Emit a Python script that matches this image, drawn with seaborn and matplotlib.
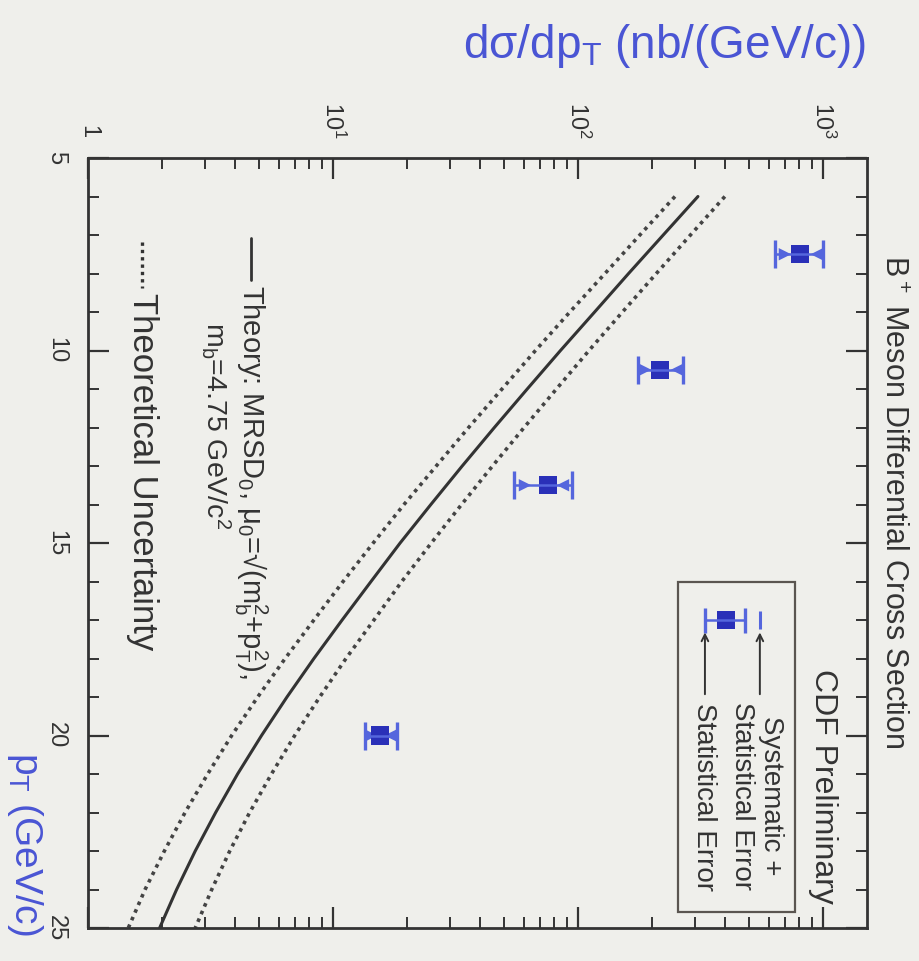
import matplotlib
matplotlib.use("Agg")
import matplotlib.pyplot as plt
import seaborn as sns
import numpy as np
import pandas as pd
from matplotlib import font_manager
from matplotlib.ticker import FixedLocator, LogLocator, NullFormatter
from matplotlib.lines import Line2D
from matplotlib.patches import Rectangle

# ---------------- data ----------------
pt_theory = [6, 7, 8, 9, 10, 11, 12, 13, 14, 15, 16, 17, 18, 19, 20, 21, 22, 23, 24, 25]
theory_central = [309, 223, 161, 117, 84.9, 62.1, 45.6, 33.7, 25.1, 18.8, 14.3, 10.9, 8.36, 6.49,
                  5.11, 4.08, 3.32, 2.74, 2.30, 1.96]
theory_upper = [398, 288, 209, 152, 111, 81.7, 60.3, 44.8, 33.5, 25.2, 19.1, 14.7, 11.3, 8.83,
                6.98, 5.61, 4.57, 3.79, 3.20, 2.74]
theory_lower = [249, 179, 129, 92.7, 67.1, 49.0, 35.8, 26.4, 19.5, 14.6, 11.0, 8.36, 6.38, 4.93,
                3.86, 3.08, 2.49, 2.05, 1.71, 1.46]

pt_data = [7.5, 10.5, 13.5, 20.0]
xsec_data = [805, 216, 75.5, 15.6]
stat_low = [700, 188, 60.8, 14.3]
stat_high = [945, 254, 86.9, 17.2]
syst_low = [637, 176, 55, 13.5]
syst_high = [1000, 268, 94.6, 18.2]

legend_pt = [17.0]
legend_val = [402]
legend_stat_low = [330]
legend_stat_high = [480]
legend_syst_high = [553]

pt_ticks = [5, 10, 15, 20, 25]
pt_ticklabels = ["5", "10", "15", "20", "25"]
xs_ticks = [1, 10, 100, 1000]
xs_ticklabels = ["1", "$10^1$", "$10^2$", "$10^3$"]

# ---------------- style ----------------
BG = "#efefeb"
INK = "#333333"
BLUE_TXT = "#4a55d4"
BLUE_BAR = "#5566dd"
BLUE_PT = "#2a30b8"

sns.set_theme(style="ticks")
avail = {f.name for f in font_manager.fontManager.ttflist}
base = "Liberation Sans" if "Liberation Sans" in avail else "DejaVu Sans"
plt.rcParams["font.family"] = [base, "DejaVu Sans"]
plt.rcParams["mathtext.fontset"] = "custom"
plt.rcParams["mathtext.rm"] = base
plt.rcParams["mathtext.it"] = base + ":italic"
plt.rcParams["mathtext.bf"] = base + ":bold"

W, H = 920, 961
fig = plt.figure(figsize=(W / 100, H / 100), dpi=100, facecolor=BG)

L, R, T, B = 88, 867, 158, 928
ax = fig.add_axes([L / W, 1 - B / H, (R - L) / W, (B - T) / H])
ax.set_facecolor(BG)

def fx(px):
    return px / W

def fy(py):
    return 1 - py / H

# theory curves
df_c = pd.DataFrame({"pt": pt_theory, "val": theory_central})
df_u = pd.DataFrame({"pt": pt_theory, "val": theory_upper})
df_l = pd.DataFrame({"pt": pt_theory, "val": theory_lower})
sns.lineplot(data=df_c, x="val", y="pt", orient="y", sort=False, estimator=None,
             color=INK, lw=2.2, ax=ax)
for d in (df_u, df_l):
    sns.lineplot(data=d, x="val", y="pt", orient="y", sort=False, estimator=None,
                 color="#444444", lw=2.6, linestyle=(0, (1.0, 1.3)), ax=ax)

# data points
xd = np.array(xsec_data)
ax.errorbar(xd, pt_data, xerr=[xd - np.array(syst_low), np.array(syst_high) - xd],
            fmt="none", ecolor=BLUE_BAR, elinewidth=1.8, capsize=10, capthick=2.4)
sns.scatterplot(x=stat_low, y=pt_data, marker=">", s=80, color=BLUE_BAR, edgecolor="none", ax=ax)
sns.scatterplot(x=stat_high, y=pt_data, marker="<", s=80, color=BLUE_BAR, edgecolor="none", ax=ax)
sns.scatterplot(x=xsec_data, y=pt_data, marker="s", s=170, color=BLUE_PT, edgecolor="none", ax=ax)

# legend sample
lv = np.array(legend_val)
ax.errorbar(lv, legend_pt, xerr=[lv - np.array(legend_stat_low), np.array(legend_stat_high) - lv],
            fmt="none", ecolor=BLUE_BAR, elinewidth=1.8, capsize=9, capthick=2.4)
sns.scatterplot(x=legend_val, y=legend_pt, marker="s", s=170, color=BLUE_PT, edgecolor="none", ax=ax)
sns.scatterplot(x=legend_syst_high, y=legend_pt, marker="|", s=160, linewidth=2.2, color=BLUE_BAR, ax=ax)

ax.add_patch(Rectangle((fx(678), fy(912)), fx(795) - fx(678), fy(582) - fy(912),
                       transform=fig.transFigure, fill=False, edgecolor="#5a5550", lw=1.6))
ax.annotate("", xy=(legend_syst_high[0], legend_pt[0] + 0.25), xytext=(legend_syst_high[0], 19.0),
            arrowprops=dict(arrowstyle="->", color=INK, lw=1.4))
ax.annotate("", xy=(legend_stat_low[0], legend_pt[0] + 0.25), xytext=(legend_stat_low[0], 19.0),
            arrowprops=dict(arrowstyle="->", color=INK, lw=1.4))
fig.text(fx(757), fy(702), "Systematic +\nStatistical Error", rotation=270,
         ha="center", va="top", fontsize=20, color=INK, linespacing=1.15)
fig.text(fx(704), fy(703), "Statistical Error", rotation=270,
         ha="center", va="top", fontsize=20, color=INK)

# axes limits / ticks
ax.set_xscale("log")
ax.set_xlim(1, 1514)
ax.set_ylim(25, 5)
ax.xaxis.set_major_locator(FixedLocator(xs_ticks))
ax.xaxis.set_minor_locator(LogLocator(base=10, subs=np.arange(2, 10)))
ax.xaxis.set_minor_formatter(NullFormatter())
ax.set_xticks(xs_ticks)
ax.set_xticklabels(xs_ticklabels)
ax.set_yticks(pt_ticks)
ax.set_yticklabels(pt_ticklabels)
ax.yaxis.set_minor_locator(FixedLocator(np.arange(5, 26, 1)))

ax.tick_params(axis="x", which="both", direction="in", top=True, bottom=True,
               labeltop=True, labelbottom=False, labelrotation=270, color=INK,
               labelsize=17, labelcolor=INK, pad=14)
ax.tick_params(axis="y", which="both", direction="in", left=True, right=True,
               labelleft=True, labelright=False, labelrotation=270, color=INK,
               labelsize=17, labelcolor=INK, pad=15)
ax.tick_params(which="major", length=15, width=1.6)
ax.tick_params(which="minor", length=8, width=1.4)
for s in ax.spines.values():
    s.set_color(INK)
    s.set_linewidth(2.0)
ax.set_xlabel("")
ax.set_ylabel("")
for lab in ax.get_yticklabels():
    lab.set_va("center")

# axis titles
fig.text(fx(866), fy(46), "dσ/dp$_\\mathrm{T}$ (nb/(GeV/c))", ha="right", va="center",
         fontsize=33, color=BLUE_TXT)
fig.text(fx(25), fy(936), "p$_\\mathrm{T}$ (GeV/c)", rotation=270, ha="center", va="bottom",
         fontsize=28, color=BLUE_TXT)

# titles
fig.text(fx(893), fy(255), "B$^+$ Meson Differential Cross Section", rotation=270,
         ha="center", va="top", fontsize=22, color=INK)
fig.text(fx(823), fy(669), "CDF Preliminary", rotation=270,
         ha="center", va="top", fontsize=23, color=INK)

# theory legend text
fig.add_artist(Line2D([fx(251), fx(251)], [fy(238), fy(280)], color=INK, lw=2))
fig.text(fx(251), fy(285), "Theory: MRSD$_0$, μ$_0$=√(m$_\\mathrm{b}^2$+p$_\\mathrm{T}^2$),",
         rotation=270, ha="center", va="top", fontsize=21, color=INK)
fig.text(fx(216), fy(322), "m$_\\mathrm{b}$=4.75 GeV/c$^2$", rotation=270,
         ha="center", va="top", fontsize=20.5, color=INK)
fig.add_artist(Line2D([fx(142), fx(142)], [fy(242), fy(288)], color=INK, lw=2.4,
                      linestyle=(0, (1.0, 1.2))))
fig.text(fx(142), fy(293), "Theoretical Uncertainty", rotation=270,
         ha="center", va="top", fontsize=25, color=INK)

fig.savefig("out.png", dpi=100, facecolor=BG)
